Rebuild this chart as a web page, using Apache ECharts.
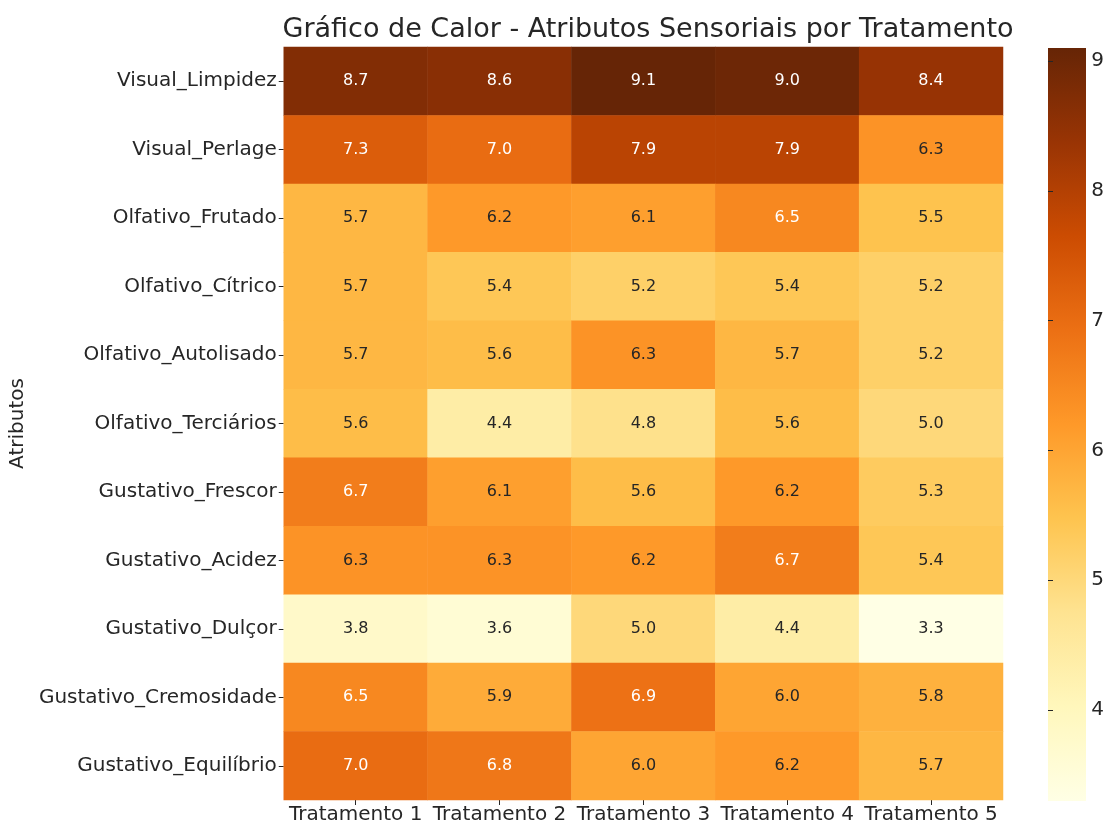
<!DOCTYPE html>
<html><head><meta charset="utf-8">
<script src="https://cdn.jsdelivr.net/npm/echarts@6/dist/echarts.min.js"></script>
<style>html,body{margin:0;padding:0;background:#fff}#c{width:1107px;height:825px}</style>
</head><body><div id="c"></div>
<script>
const treatments = ['Tratamento 1','Tratamento 2','Tratamento 3','Tratamento 4','Tratamento 5'];
const attributes = ['Visual_Limpidez','Visual_Perlage','Olfativo_Frutado','Olfativo_Cítrico','Olfativo_Autolisado','Olfativo_Terciários','Gustativo_Frescor','Gustativo_Acidez','Gustativo_Dulçor','Gustativo_Cremosidade','Gustativo_Equilíbrio'];
const values = [
  [8.7, 8.6, 9.1, 9.0, 8.4],
  [7.3, 7.0, 7.9, 7.9, 6.3],
  [5.7, 6.2, 6.1, 6.5, 5.5],
  [5.7, 5.4, 5.2, 5.4, 5.2],
  [5.7, 5.6, 6.3, 5.7, 5.2],
  [5.6, 4.4, 4.8, 5.6, 5.0],
  [6.7, 6.1, 5.6, 6.2, 5.3],
  [6.3, 6.3, 6.2, 6.7, 5.4],
  [3.8, 3.6, 5.0, 4.4, 3.3],
  [6.5, 5.9, 6.9, 6.0, 5.8],
  [7.0, 6.8, 6.0, 6.2, 5.7]
];
const colorbarTicks = [4,5,6,7,8,9];
const cmap = ['#ffffe5','#fff7bc','#fee391','#fec44f','#fe9929','#ec7014','#cc4c02','#993404','#662506'];
const vmin = 3.3, vmax = 9.1;

const data = [];
values.forEach((row, r) => row.forEach((v, c) => data.push({value: [c, r, v], label: {color: v >= 6.4 ? '#ffffff' : '#262626'}})));

const font = 'DejaVu Sans';
const txt = '#262626';
const chart = echarts.init(document.getElementById('c'));
chart.setOption({
  animation: false,
  textStyle: {fontFamily: font},
  title: {
    text: 'Gráfico de Calor - Atributos Sensoriais por Tratamento',
    left: 643, top: 11, textAlign: 'center',
    textStyle: {fontFamily: font, fontSize: 27, fontWeight: 'normal', color: txt}
  },
  graphic: [{
    type: 'rect', left: 1048, top: 48, silent: true,
    shape: {width: 38, height: 753},
    style: {fill: new echarts.graphic.LinearGradient(0, 1, 0, 0,
      cmap.map((c, i) => ({offset: i / (cmap.length - 1), color: c})))}
  }],
  grid: [
    {left: 283, top: 47, width: 720, height: 753},
    {left: 1048, top: 48, width: 38, height: 753}
  ],
  xAxis: [
    {type: 'category', data: treatments, gridIndex: 0, position: 'bottom',
     axisLine: {show: false}, splitLine: {show: false},
     axisTick: {show: true, alignWithLabel: true, length: 5, lineStyle: {color: txt}},
     axisLabel: {interval: 0, fontSize: 20, color: txt, margin: 5, fontFamily: font}},
    {type: 'value', gridIndex: 1, show: false, min: 0, max: 1}
  ],
  yAxis: [
    {type: 'category', data: attributes, gridIndex: 0, inverse: true,
     name: 'Atributos', nameLocation: 'middle', nameGap: 253, nameRotate: 90,
     nameTextStyle: {fontSize: 20, color: txt, fontFamily: font},
     axisLine: {show: false}, splitLine: {show: false},
     axisTick: {show: true, alignWithLabel: true, length: 5, lineStyle: {color: txt}},
     axisLabel: {interval: 0, fontSize: 20, color: txt, margin: 7, fontFamily: font}},
    {type: 'value', gridIndex: 1, position: 'right', min: vmin, max: vmax,
     axisLine: {show: false}, splitLine: {show: false},
     axisTick: {show: true, length: 5, lineStyle: {color: txt}, customValues: colorbarTicks},
     axisLabel: {fontSize: 20, color: txt, margin: 6, fontFamily: font, customValues: colorbarTicks}}
  ],
  visualMap: {
    type: 'continuous', min: vmin, max: vmax, show: false,
    seriesIndex: 0, inRange: {color: cmap}
  },
  series: [{
    type: 'heatmap', xAxisIndex: 0, yAxisIndex: 0, data: data,
    label: {
      show: true, fontSize: 16, fontFamily: font,
      formatter: p => p.value[2].toFixed(1)
    },
    emphasis: {disabled: true}
  }]
});
</script></body></html>
